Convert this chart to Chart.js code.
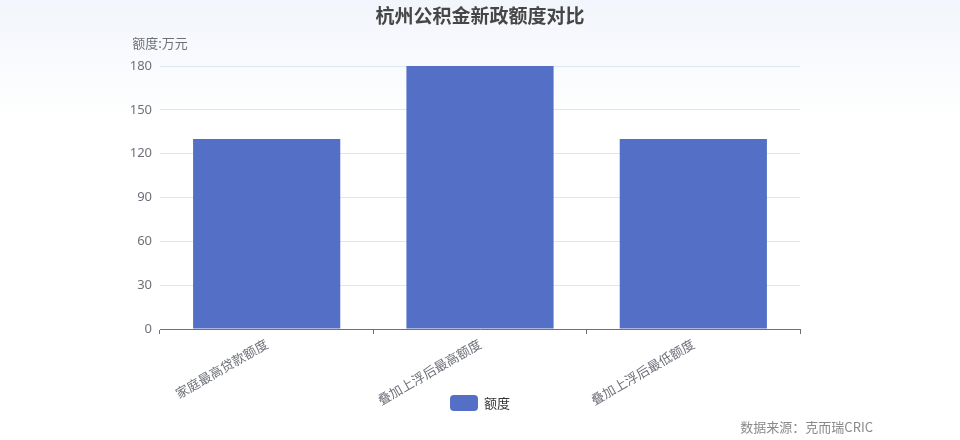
<!DOCTYPE html>
<html><head><meta charset="utf-8">
<script src="https://cdn.jsdelivr.net/npm/chart.js@4.4.0/dist/chart.umd.min.js"></script>
<style>html,body{margin:0;padding:0;background:#fff}#wrap{width:960px;height:440px}canvas{display:block}</style>
</head><body>
<div id="wrap"><canvas id="c" width="960" height="440"></canvas></div>
<script>
const categories = ['家庭最高贷款额度', '叠加上浮后最高额度', '叠加上浮后最低额度'];
const seriesName = '额度';
const values = [130, 180, 130];
const yTicks = [0, 30, 60, 90, 120, 150, 180];
const titleText = '杭州公积金新政额度对比';
const yAxisName = '额度:万元';
const sourceText = '数据来源：克而瑞CRIC';

const FONT = '"Noto Sans CJK SC", "Noto Sans", sans-serif';
const NUMFONT = '"Noto Sans", "Noto Sans CJK SC", sans-serif';
const BAR = '#5470C6';

const decor = {
  id: 'decor',
  beforeDraw(chart) {
    const ctx = chart.ctx;
    ctx.save();
    const g = ctx.createLinearGradient(0, 0, 0, 120);
    g.addColorStop(0, '#f2f5fb');
    g.addColorStop(1, '#ffffff');
    ctx.fillStyle = g;
    ctx.fillRect(0, 0, chart.width, chart.height);
    ctx.restore();
  },
  afterDraw(chart) {
    const ctx = chart.ctx;
    const area = chart.chartArea;
    ctx.save();
    ctx.textBaseline = 'middle';
    ctx.fillStyle = '#464646';
    ctx.font = 'bold 19px ' + FONT;
    ctx.textAlign = 'center';
    ctx.fillText(titleText, 480, 16);
    ctx.fillStyle = '#6E7079';
    ctx.font = '13px ' + FONT;
    ctx.fillText(yAxisName, area.left, 43);
    const ds = chart.data.datasets[0];
    ctx.fillStyle = ds.backgroundColor;
    ctx.beginPath();
    ctx.roundRect(450, 395, 28, 16, 4);
    ctx.fill();
    ctx.fillStyle = '#333333';
    ctx.textAlign = 'left';
    ctx.font = '13px ' + FONT;
    ctx.fillText(ds.label, 484, 403.5);
    ctx.fillStyle = '#8a8a8a';
    ctx.textAlign = 'right';
    ctx.font = '13px ' + FONT;
    ctx.fillText(sourceText, 873, 427);
    ctx.restore();
  }
};

new Chart(document.getElementById('c'), {
  type: 'bar',
  data: {
    labels: categories,
    datasets: [{
      label: seriesName,
      data: values,
      backgroundColor: BAR,
      borderWidth: 0,
      barPercentage: 0.69,
      categoryPercentage: 1
    }]
  },
  options: {
    responsive: false,
    animation: false,
    devicePixelRatio: 1,
    layout: { padding: { left: 0, right: 160, top: 66, bottom: 0 } },
    plugins: { legend: { display: false }, title: { display: false }, tooltip: { enabled: false } },
    scales: {
      x: {
        offset: true,
        afterFit(s) { s.height = 111; },
        border: { display: true, color: '#6E7079', width: 1 },
        grid: { display: true, offset: true, drawOnChartArea: false, drawTicks: true, tickLength: 5, color: '#6E7079' },
        ticks: {
          autoSkip: false, maxRotation: 30, minRotation: 30, padding: 2,
          color: '#6E7079', font: { family: FONT, size: 13 }
        }
      },
      y: {
        min: 0, max: 180,
        afterFit(s) { s.width = 160; },
        afterBuildTicks(s) { s.ticks = yTicks.map(v => ({ value: v })); },
        border: { display: false },
        grid: { color: '#E0E6F1', drawTicks: false },
        ticks: { padding: 8, color: '#6E7079', font: { family: NUMFONT, size: 13 } }
      }
    }
  },
  plugins: [decor]
});
</script>
</body></html>
